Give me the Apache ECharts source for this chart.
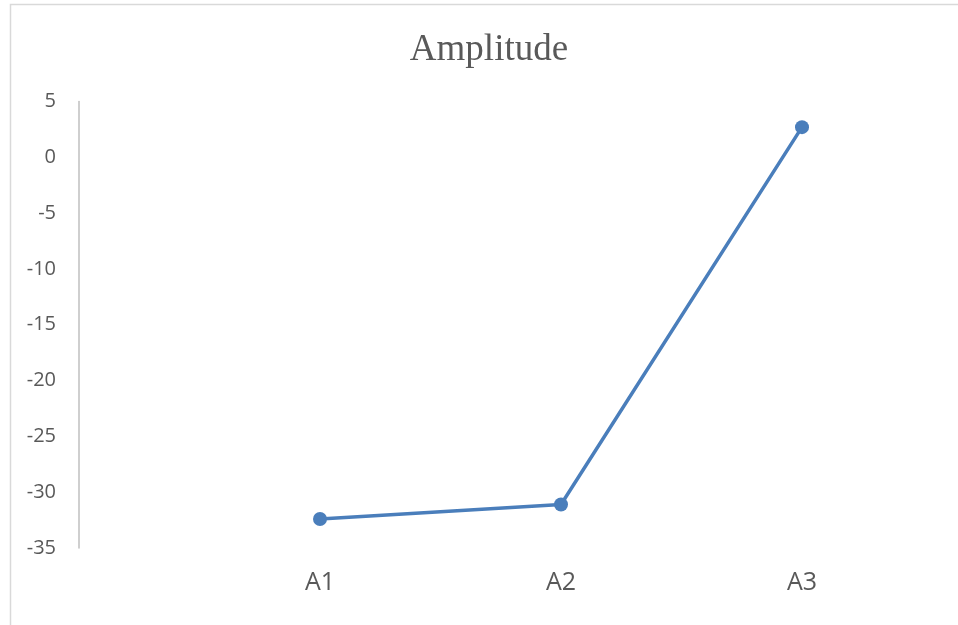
<!DOCTYPE html>
<html>
<head>
<meta charset="utf-8">
<style>
  html, body { margin: 0; padding: 0; background: #ffffff; }
  #chart { width: 958px; height: 625px; }
</style>
<script src="https://cdn.jsdelivr.net/npm/echarts@6/dist/echarts.min.js"></script>
</head>
<body>
<div id="chart"></div>
<script>
// Categories (the leading blank slot keeps the first point off the value axis)
const categories = ['', 'A1', 'A2', 'A3'];
// Amplitude per category
const amplitude = [null, -32.4, -31.1, 2.7];
// Value axis range and step
const yMin = -35;
const yMax = 5;
const yStep = 5;

const chart = echarts.init(document.getElementById('chart'), null, { renderer: 'canvas' });

chart.setOption({
  animation: false,
  backgroundColor: '#ffffff',
  graphic: [{
    type: 'rect',
    left: 8, top: 2,
    shape: { width: 1200, height: 1000 },
    style: { fill: 'none', stroke: '#d9d9d9', lineWidth: 1.5 },
    silent: true
  }],
  title: {
    text: 'Amplitude',
    left: 484,
    top: 27,
    textAlign: 'center',
    textStyle: {
      fontFamily: '"Liberation Serif", "DejaVu Serif", serif',
      fontSize: 37,
      fontWeight: 'normal',
      color: '#595959'
    }
  },
  grid: { left: 79, right: 156, top: 101.5, bottom: 77, containLabel: false },
  xAxis: {
    type: 'category',
    data: categories,
    boundaryGap: false,
    axisLine: { show: false },
    axisTick: { show: false },
    splitLine: { show: false },
    axisLabel: {
      margin: 22,
      fontFamily: '"Open Sans", "Noto Sans", sans-serif',
      fontSize: 25,
      color: '#595959'
    }
  },
  yAxis: {
    type: 'value',
    min: yMin,
    max: yMax,
    interval: yStep,
    axisLine: { show: true, lineStyle: { color: '#bfbfbf', width: 1.5 } },
    axisTick: { show: false },
    splitLine: { show: false },
    axisLabel: {
      margin: 23,
      fontFamily: '"Open Sans", "Noto Sans", sans-serif',
      fontSize: 20,
      color: '#595959'
    }
  },
  series: [{
    name: 'Amplitude',
    type: 'line',
    data: amplitude,
    symbol: 'circle',
    symbolSize: 14,
    showAllSymbol: true,
    lineStyle: { color: '#4a7ebb', width: 3.5 },
    itemStyle: { color: '#4a7ebb' }
  }]
});
</script>
</body>
</html>
